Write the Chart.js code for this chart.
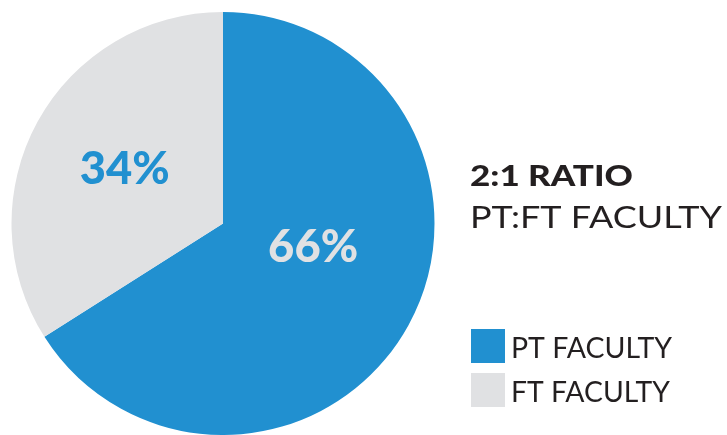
<!DOCTYPE html>
<html>
<head>
<meta charset="utf-8">
<script src="https://cdn.jsdelivr.net/npm/chart.js@4.4.1/dist/chart.umd.min.js"></script>
<style>
  html, body { margin: 0; padding: 0; background: #fff; }
  #wrap { position: relative; width: 727px; height: 435px; }
</style>
</head>
<body>
<div id="wrap"><canvas id="facultyChart"></canvas></div>
<script>
const labels = ['PT FACULTY', 'FT FACULTY'];
const values = [66, 34];
const colors = ['#2190D0', '#E0E1E3'];
const labelColors = ['#E0E1E3', '#2190D0'];
const titleLines = ['2:1 RATIO', 'PT:FT FACULTY'];

const FONT = 'Lato, "Open Sans", sans-serif';

// draw text stretched horizontally to a given width (the original font is wider than Lato)
function fitText(ctx, text, x, y, width) {
    const w = ctx.measureText(text).width;
    ctx.save();
    ctx.translate(x, y);
    ctx.scale(width / w, 1);
    ctx.fillText(text, 0, 0);
    ctx.restore();
}

const facultyText = {
    id: 'facultyText',
    afterDatasetsDraw(chart, args, opts) {
        const ctx = chart.ctx;
        const meta = chart.getDatasetMeta(0);
        const total = values.reduce((a, b) => a + b, 0);
        ctx.save();
        ctx.textAlign = 'center';
        ctx.textBaseline = 'middle';
        ctx.font = '900 46px ' + FONT;
        meta.data.forEach((arc, i) => {
            const p = arc.getProps(['x', 'y', 'startAngle', 'endAngle', 'outerRadius'], true);
            const place = opts.placement[i];
            const mid = (p.startAngle + p.endAngle) / 2 + place.shift;
            const r = p.outerRadius * place.dist;
            ctx.fillStyle = labelColors[i];
            fitText(ctx, Math.round(values[i] / total * 100) + '%', p.x + Math.cos(mid) * r, p.y + Math.sin(mid) * r, 90);
        });

        // side heading
        ctx.textAlign = 'left';
        ctx.textBaseline = 'alphabetic';
        ctx.fillStyle = '#231F20';
        ctx.font = '900 29px ' + FONT;
        fitText(ctx, titleLines[0], 470, 186, 163);
        ctx.font = '30px ' + FONT;
        fitText(ctx, titleLines[1], 470, 228, 252);

        // legend
        ctx.font = '28px ' + FONT;
        labels.forEach((lab, i) => {
            const y = 329 + i * 44;
            ctx.fillStyle = colors[i];
            ctx.fillRect(471, y, 34, 34);
            ctx.fillStyle = '#231F20';
            fitText(ctx, lab, 511, y + 29, i === 0 ? 161 : 159);
        });
        ctx.restore();
    }
};

new Chart(document.getElementById('facultyChart'), {
    type: 'pie',
    data: {
        labels: labels,
        datasets: [{
            data: values,
            backgroundColor: colors,
            borderWidth: 0,
            hoverOffset: 0
        }]
    },
    options: {
        responsive: true,
        maintainAspectRatio: false,
        animation: false,
        layout: {
            padding: { left: 10, top: 12, right: 291, bottom: 0 }
        },
        plugins: {
            legend: { display: false },
            tooltip: { enabled: false },
            facultyText: {
                placement: [
                    { shift: -0.25, dist: 0.44 },
                    { shift: 0.0, dist: 0.53 }
                ]
            }
        }
    },
    plugins: [facultyText]
});
</script>
</body>
</html>
